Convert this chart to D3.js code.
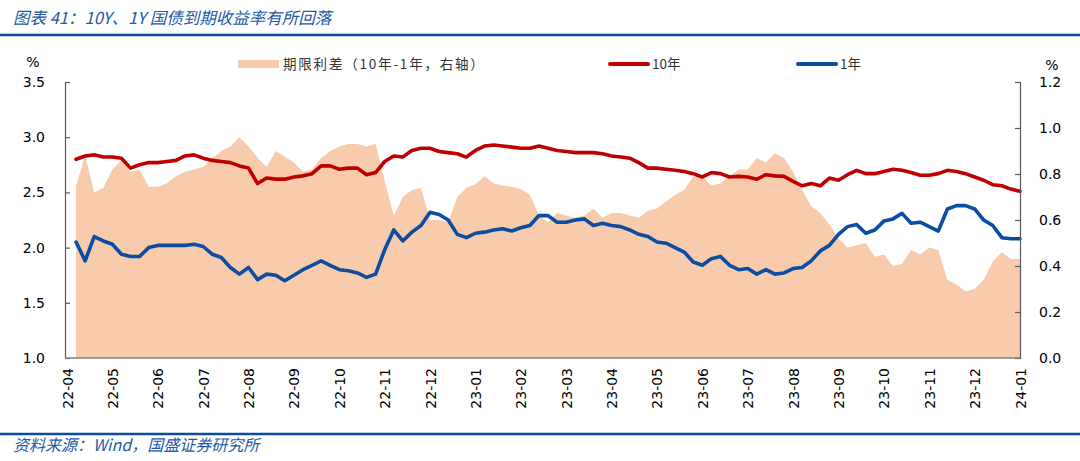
<!DOCTYPE html>
<html>
<head>
<meta charset="utf-8">
<script src="https://cdn.jsdelivr.net/npm/d3@7"></script>
<style>
  html, body { margin: 0; padding: 0; background: #fff; }
  svg { display: block; }
</style>
</head>
<body>
<div id="chart"></div>
<script>
// tick labels of the category axis (one per month)
const months = ["22-04", "22-05", "22-06", "22-07", "22-08", "22-09", "22-10", "22-11", "22-12",
    "23-01", "23-02", "23-03", "23-04", "23-05", "23-06", "23-07", "23-08", "23-09", "23-10",
    "23-11", "23-12", "24-01"];

// readings are taken 5 times per month, starting one step after 22-04
const samplesPerMonth = 5;

// 10Y treasury yield, %
const tenY = [2.80, 2.83, 2.84, 2.82, 2.82, 2.81, 2.72, 2.75, 2.77, 2.77,
    2.78, 2.79, 2.83, 2.84, 2.81, 2.79, 2.78, 2.77, 2.74, 2.72,
    2.58, 2.63, 2.62, 2.62, 2.64, 2.65, 2.67, 2.74, 2.74, 2.71,
    2.72, 2.72, 2.66, 2.68, 2.78, 2.83, 2.82, 2.88, 2.90, 2.90,
    2.87, 2.86, 2.85, 2.82, 2.88, 2.92, 2.93, 2.92, 2.91, 2.90,
    2.90, 2.92, 2.90, 2.88, 2.87, 2.86, 2.86, 2.86, 2.85, 2.83,
    2.82, 2.81, 2.77, 2.72, 2.72, 2.71, 2.70, 2.69, 2.67, 2.64,
    2.68, 2.67, 2.64, 2.645, 2.64, 2.62, 2.66, 2.65, 2.645, 2.60,
    2.56, 2.58, 2.56, 2.63, 2.61, 2.66, 2.70, 2.67, 2.67, 2.69,
    2.71, 2.70, 2.68, 2.655, 2.655, 2.67, 2.70, 2.69, 2.67, 2.64,
    2.61, 2.57, 2.56, 2.53, 2.51];

// 1Y treasury yield, %
const oneY = [2.05, 1.88, 2.10, 2.06, 2.03, 1.94, 1.92, 1.92, 2.00, 2.02,
    2.02, 2.02, 2.02, 2.03, 2.01, 1.94, 1.91, 1.82, 1.76, 1.82,
    1.71, 1.76, 1.75, 1.70, 1.75, 1.80, 1.84, 1.88, 1.84, 1.80,
    1.79, 1.77, 1.73, 1.76, 1.98, 2.16, 2.06, 2.14, 2.20, 2.32,
    2.30, 2.25, 2.12, 2.09, 2.13, 2.14, 2.16, 2.17, 2.15, 2.18,
    2.20, 2.29, 2.29, 2.23, 2.23, 2.25, 2.26, 2.20, 2.22, 2.20,
    2.19, 2.16, 2.12, 2.10, 2.05, 2.04, 2.00, 1.96, 1.87, 1.84,
    1.90, 1.92, 1.84, 1.80, 1.81, 1.76, 1.80, 1.76, 1.77, 1.81,
    1.82, 1.88, 1.97, 2.02, 2.12, 2.19, 2.21, 2.13, 2.16, 2.24,
    2.26, 2.31, 2.22, 2.23, 2.19, 2.15, 2.35, 2.38, 2.38, 2.35,
    2.25, 2.20, 2.09, 2.08, 2.08];

// term spread (10Y - 1Y), %, right axis
const spread = [0.75, 0.88, 0.72, 0.74, 0.82, 0.86, 0.81, 0.82, 0.745, 0.745,
    0.76, 0.79, 0.81, 0.82, 0.83, 0.87, 0.90, 0.92, 0.96, 0.92,
    0.87, 0.83, 0.90, 0.875, 0.85, 0.81, 0.82, 0.87, 0.90, 0.92,
    0.93, 0.93, 0.92, 0.93, 0.77, 0.62, 0.70, 0.73, 0.74, 0.60,
    0.60, 0.59, 0.70, 0.74, 0.755, 0.79, 0.76, 0.75, 0.745, 0.735,
    0.71, 0.62, 0.59, 0.63, 0.62, 0.61, 0.62, 0.65, 0.61, 0.63,
    0.63, 0.62, 0.61, 0.64, 0.65, 0.68, 0.71, 0.73, 0.79, 0.79,
    0.75, 0.76, 0.79, 0.82, 0.82, 0.87, 0.85, 0.89, 0.87, 0.81,
    0.73, 0.66, 0.63, 0.58, 0.52, 0.48, 0.49, 0.50, 0.44, 0.45,
    0.40, 0.41, 0.47, 0.45, 0.48, 0.47, 0.34, 0.32, 0.29, 0.30,
    0.34, 0.42, 0.46, 0.43, 0.43];

const leftTicks = [1.0, 1.5, 2.0, 2.5, 3.0, 3.5];
const rightTicks = [0.0, 0.2, 0.4, 0.6, 0.8, 1.0, 1.2];

const legendItems = [
    { name: "期限利差（10年-1年，右轴）", type: "area" },
    { name: "10年", type: "ten" },
    { name: "1年", type: "one" }
];

const colors = { area: "#F8CBAD", ten: "#C00000", one: "#0B4DA1" };

const W = 1080, H = 461;
const plot = { left: 65, right: 1020, top: 82, bottom: 358 };

const svg = d3.select("#chart").append("svg")
    .attr("width", W)
    .attr("height", H)
    .style("font-family", "'DejaVu Sans', sans-serif");

// header and footer
svg.append("text")
    .attr("x", 13)
    .attr("y", 24)
    .attr("fill", "#2459A8")
    .attr("font-size", 16.5)
    .attr("font-style", "italic")
    .attr("font-family", "'Noto Sans CJK SC', sans-serif")
    .text("图表 41：10Y、1Y 国债到期收益率有所回落");

svg.append("line")
    .attr("x1", 0).attr("x2", W)
    .attr("y1", 35).attr("y2", 35)
    .attr("stroke", "#0B4DA1")
    .attr("stroke-width", 2.5);

svg.append("line")
    .attr("x1", 0).attr("x2", W)
    .attr("y1", 434).attr("y2", 434)
    .attr("stroke", "#0B4DA1")
    .attr("stroke-width", 2.5);

svg.append("text")
    .attr("x", 13)
    .attr("y", 451)
    .attr("fill", "#2459A8")
    .attr("font-size", 16)
    .attr("font-style", "italic")
    .attr("font-family", "'Noto Sans CJK SC', sans-serif")
    .text("资料来源：Wind，国盛证券研究所");

// scales
const x = d3.scaleLinear()
    .domain([0, months.length - 1])
    .range([67, plot.right]);

const yLeft = d3.scaleLinear()
    .domain([1.0, 3.5])
    .range([plot.bottom, plot.top]);

const yRight = d3.scaleLinear()
    .domain([0, 1.2])
    .range([plot.bottom, plot.top]);

const pos = i => (i + 1) / samplesPerMonth;

// spread area
svg.append("path")
    .datum(spread)
    .attr("fill", colors.area)
    .attr("d", d3.area()
        .x((d, i) => x(pos(i)))
        .y0(yRight(0))
        .y1(d => yRight(d)));

// yield lines
const line = d3.line()
    .x((d, i) => x(pos(i)))
    .y(d => yLeft(d));

svg.append("path")
    .datum(tenY)
    .attr("fill", "none")
    .attr("stroke", colors.ten)
    .attr("stroke-width", 3.6)
    .attr("stroke-linejoin", "round")
    .attr("stroke-linecap", "round")
    .attr("d", line);

svg.append("path")
    .datum(oneY)
    .attr("fill", "none")
    .attr("stroke", colors.one)
    .attr("stroke-width", 3.6)
    .attr("stroke-linejoin", "round")
    .attr("stroke-linecap", "round")
    .attr("d", line);

// axes
const leftAxis = svg.append("g")
    .attr("transform", `translate(${plot.left},0)`)
    .call(d3.axisLeft(yLeft)
        .tickValues(leftTicks)
        .tickFormat(d3.format(".1f"))
        .tickSize(-5)
        .tickPadding(20));

const rightAxis = svg.append("g")
    .attr("transform", `translate(${plot.right},0)`)
    .call(d3.axisRight(yRight)
        .tickValues(rightTicks)
        .tickFormat(d3.format(".1f"))
        .tickSize(-5)
        .tickPadding(19));

[leftAxis, rightAxis].forEach(g => {
    g.select(".domain").attr("stroke", "#595959").attr("stroke-width", 1.2);
    g.selectAll(".tick line").attr("stroke", "#595959").attr("stroke-width", 1.2);
    g.selectAll(".tick text")
        .attr("fill", "#000")
        .attr("font-size", 14)
        .attr("font-family", "'DejaVu Sans', sans-serif");
});

const bottomAxis = svg.append("g")
    .attr("transform", `translate(0,${plot.bottom})`)
    .call(d3.axisBottom(x)
        .tickValues(d3.range(months.length))
        .tickFormat(i => months[i])
        .tickSize(0)
        .tickSizeOuter(0));

bottomAxis.select(".domain")
    .attr("d", `M${plot.left},0H${plot.right}`)
    .attr("stroke", "#808080")
    .attr("stroke-width", 1.5);

bottomAxis.selectAll(".tick text")
    .attr("transform", "rotate(-90)")
    .attr("x", -10)
    .attr("y", 0)
    .attr("dy", "0.36em")
    .attr("text-anchor", "end")
    .attr("fill", "#000")
    .attr("font-size", 14)
    .attr("font-family", "'DejaVu Sans', sans-serif");

// unit labels
svg.append("text")
    .attr("x", 33).attr("y", 67)
    .attr("text-anchor", "middle")
    .attr("font-size", 14)
    .text("%");

svg.append("text")
    .attr("x", 1052).attr("y", 70)
    .attr("text-anchor", "middle")
    .attr("font-size", 14)
    .text("%");

// legend
const legendPos = [
    { x0: 238, x1: 279, tx: 283 },
    { x0: 608, x1: 650, tx: 652 },
    { x0: 796, x1: 838, tx: 840 }
];
const legendY = 64;

const legend = svg.append("g").attr("class", "legend");

legendItems.forEach((item, k) => {
    const p = legendPos[k];
    if (item.type === "area") {
        legend.append("rect")
            .attr("x", p.x0).attr("y", legendY - 4)
            .attr("width", p.x1 - p.x0).attr("height", 8)
            .attr("fill", colors.area);
    } else {
        legend.append("line")
            .attr("x1", p.x0 + 2).attr("x2", p.x1 - 2)
            .attr("y1", legendY).attr("y2", legendY)
            .attr("stroke", colors[item.type])
            .attr("stroke-width", 4)
            .attr("stroke-linecap", "round");
    }
    legend.append("text")
        .attr("x", p.tx).attr("y", legendY)
        .attr("dy", "0.35em")
        .attr("fill", "#333")
        .attr("font-size", 13.5)
        .attr("letter-spacing", item.type === "area" ? 1.8 : 0)
        .attr("font-family", "'Noto Sans CJK SC', sans-serif")
        .text(item.name);
});
</script>
</body>
</html>
